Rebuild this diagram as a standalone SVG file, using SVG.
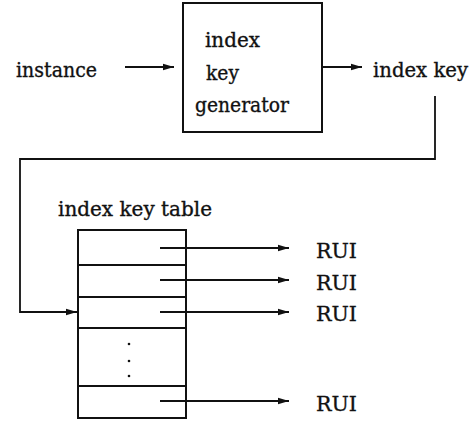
<svg xmlns="http://www.w3.org/2000/svg" width="471" height="423" viewBox="0 0 471 423">
<style>
text{font-family:'DejaVu Serif','Liberation Serif',serif;font-size:20px;fill:#111;stroke:#111;stroke-width:0.35}
.ln{fill:none;stroke:#111;stroke-width:1.8}
.box{fill:#fff;stroke:#111;stroke-width:2}
</style>
<defs>
<marker id="ah" markerWidth="12" markerHeight="8" refX="11" refY="4" orient="auto" markerUnits="userSpaceOnUse">
<path d="M0,0.8 L11,4 L0,7.2 Z" fill="#111"/>
</marker>
</defs>
<rect width="471" height="423" fill="#fff"/>
<g id="instance"><text x="16" y="77" textLength="81" lengthAdjust="spacingAndGlyphs">instance</text></g>
<g id="generator">
<rect class="box" x="183" y="3" width="139" height="129"/>
<text x="205" y="47" textLength="55" lengthAdjust="spacingAndGlyphs">index</text>
<text x="206" y="80" textLength="33" lengthAdjust="spacingAndGlyphs">key</text>
<text x="195" y="112" textLength="94" lengthAdjust="spacingAndGlyphs">generator</text>
</g>
<g id="indexkey"><text x="373" y="77" textLength="95" lengthAdjust="spacingAndGlyphs">index key</text></g>
<g id="table">
<text x="58" y="216" textLength="154" lengthAdjust="spacingAndGlyphs">index key table</text>
<rect class="box" x="78" y="230" width="108" height="188"/>
<line class="ln" x1="78" y1="265" x2="186" y2="265"/>
<line class="ln" x1="78" y1="297" x2="186" y2="297"/>
<line class="ln" x1="78" y1="328" x2="186" y2="328"/>
<line class="ln" x1="78" y1="386" x2="186" y2="386"/>
<circle cx="129" cy="344" r="1.3" fill="#111"/>
<circle cx="129" cy="361" r="1.3" fill="#111"/>
<circle cx="129" cy="376" r="1.3" fill="#111"/>
</g>
<g id="rui">
<text x="316" y="258" textLength="41" lengthAdjust="spacingAndGlyphs">RUI</text>
<text x="316" y="290" textLength="41" lengthAdjust="spacingAndGlyphs">RUI</text>
<text x="316" y="321" textLength="41" lengthAdjust="spacingAndGlyphs">RUI</text>
<text x="316" y="411" textLength="41" lengthAdjust="spacingAndGlyphs">RUI</text>
</g>
<g id="connectors">
<line class="ln" x1="125" y1="67" x2="174" y2="67" marker-end="url(#ah)"/>
<line class="ln" x1="322" y1="67" x2="362" y2="67" marker-end="url(#ah)"/>
<polyline class="ln" points="435,96 435,159 20,159 20,312 77,312" marker-end="url(#ah)"/>
<line class="ln" x1="160" y1="248" x2="289" y2="248" marker-end="url(#ah)"/>
<line class="ln" x1="160" y1="280" x2="289" y2="280" marker-end="url(#ah)"/>
<line class="ln" x1="160" y1="312" x2="289" y2="312" marker-end="url(#ah)"/>
<line class="ln" x1="160" y1="401" x2="289" y2="401" marker-end="url(#ah)"/>
</g>
</svg>
